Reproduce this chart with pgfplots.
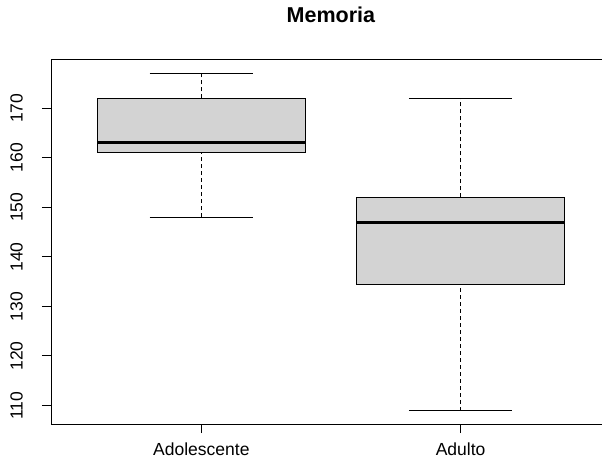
\documentclass[border=0pt]{standalone}
\usepackage{pgfplots}
\pgfplotsset{compat=1.18}
\usepackage{fontspec}
\setmainfont{Liberation Sans}
\definecolor{boxgray}{HTML}{D3D3D3}
\begin{document}
\begin{tikzpicture}
\begin{axis}[
  name=ax,
  at={(0,0)}, anchor=south west,
  width=560bp, height=364bp, scale only axis,
  xmin=0.42, xmax=2.58, ymin=106.28, ymax=179.72,
  xtick={1,2}, xticklabels={Adolescente,Adulto},
  ytick={110,120,...,170},
  tick align=outside, tick pos=left,
  major tick length=9bp,
  axis line style={line width=1bp},
  every tick/.style={black, line width=1bp},
  /pgf/number format/assume math mode=true,
  tick label style={font=\fontsize{17.5bp}{20bp}\selectfont},
  yticklabel style={xshift=-19bp, rotate=90, anchor=south, inner sep=0pt},
  xticklabel style={anchor=north, inner sep=0pt, yshift=-10bp},
  title={\textbf{Memoria}},
  title style={font=\fontsize{21.5bp}{24bp}\selectfont, anchor=base, at={(axis description cs:0.5,1)}, yshift=32bp, inner sep=0pt},
  whisk/.style={black, line width=1bp, dash pattern=on 4bp off 3bp},
  capl/.style={black, line width=1bp},
  boxs/.style={draw=black, fill=boxgray, line width=1bp},
  med/.style={black, line width=3bp},
]
% Adolescente: lw=148, q1=161, med=163, q3=172, uw=177
\addplot[whisk] coordinates {(1,172) (1,177)};
\addplot[whisk] coordinates {(1,148) (1,161)};
\addplot[capl] coordinates {(0.8,177) (1.2,177)};
\addplot[capl] coordinates {(0.8,148) (1.2,148)};
\addplot[boxs] coordinates {(0.6,161) (1.4,161) (1.4,172) (0.6,172)} -- cycle;
\addplot[med] coordinates {(0.6,163) (1.4,163)};
% Adulto: lw=109, q1=134.5, med=147, q3=152, uw=172
\addplot[whisk] coordinates {(2,152) (2,172)};
\addplot[whisk] coordinates {(2,109) (2,134.5)};
\addplot[capl] coordinates {(1.8,172) (2.2,172)};
\addplot[capl] coordinates {(1.8,109) (2.2,109)};
\addplot[boxs] coordinates {(1.6,134.5) (2.4,134.5) (2.4,152) (1.6,152)} -- cycle;
\addplot[med] coordinates {(1.6,147) (2.4,147)};
\end{axis}
\pgfresetboundingbox
\useasboundingbox ([shift={(-51bp,-35bp)}]ax.south west) rectangle ([shift={(551bp,424bp)}]ax.south west);
\end{tikzpicture}
\end{document}
